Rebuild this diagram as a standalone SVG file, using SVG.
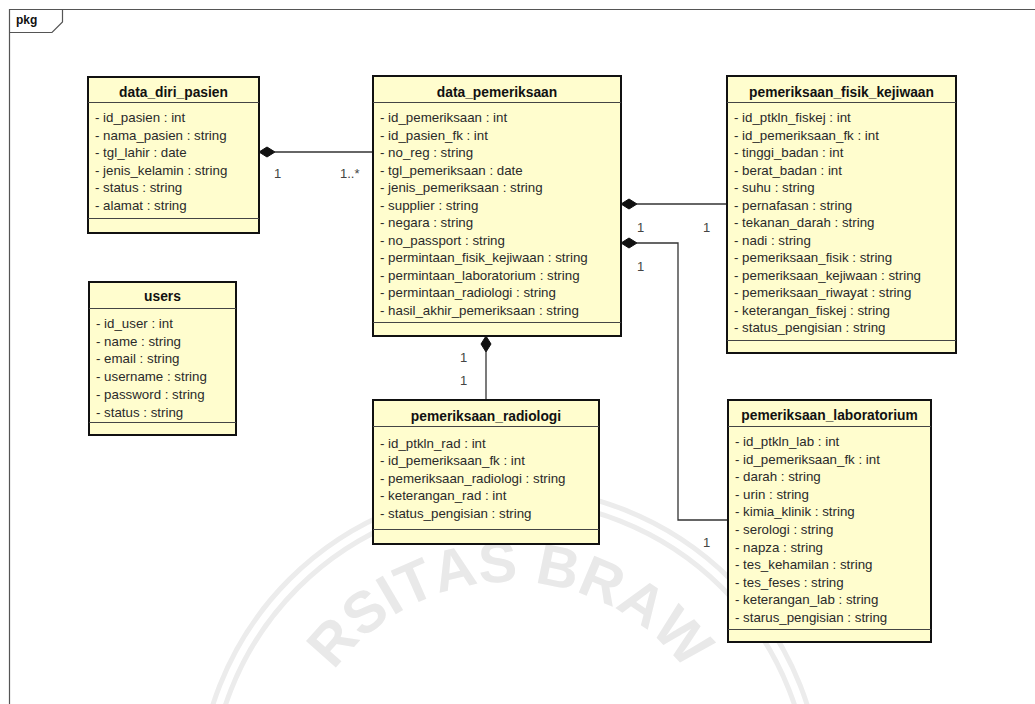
<svg xmlns="http://www.w3.org/2000/svg" width="1035" height="704" viewBox="0 0 1035 704">
  <defs>
    <style>
      .frame { fill: none; stroke: #555; stroke-width: 1.2; }
      .box { fill: #fffdce; stroke: #111; stroke-width: 2; }
      .sep { stroke: #444; stroke-width: 1; }
      .title { font-family: "Liberation Sans", Arial, sans-serif; font-size: 13.8px; font-weight: bold; fill: #111; text-anchor: middle; }
      .attr { font-family: "Liberation Sans", Arial, sans-serif; font-size: 13.3px; fill: #2a2a2a; }
      .mult { font-family: "Liberation Sans", Arial, sans-serif; font-size: 13px; fill: #444; }
      .conn { fill: none; stroke: #333; stroke-width: 1.3; }
      .diamond { fill: #111; stroke: #111; stroke-width: 1; }
      .wm-ring { fill: none; stroke: #ececec; stroke-width: 5; }
      .wm-text { font-family: "Liberation Sans", Arial, sans-serif; font-size: 58px; font-weight: bold; fill: #e9e9e9; text-anchor: middle; }
    </style>
  </defs>

  <rect x="0" y="0" width="1035" height="704" fill="#ffffff"/>

  <!-- background seal: rings and lettering set around centre (510, 800) -->
  <g id="seal">
    <circle class="wm-ring" cx="510" cy="800" r="300"/>
    <circle class="wm-ring" cx="510" cy="800" r="312"/>
    <text class="wm-text" x="510" y="582" transform="rotate(-48.3 510 800)">R</text>
    <text class="wm-text" x="510" y="582" transform="rotate(-37.7 510 800)">S</text>
    <text class="wm-text" x="510" y="582" transform="rotate(-30.5 510 800)">I</text>
    <text class="wm-text" x="510" y="582" transform="rotate(-23.7 510 800)">T</text>
    <text class="wm-text" x="510" y="582" transform="rotate(-13.6 510 800)">A</text>
    <text class="wm-text" x="510" y="582" transform="rotate(-3.0 510 800)">S</text>
    <text class="wm-text" x="510" y="582" transform="rotate(11.8 510 800)">B</text>
    <text class="wm-text" x="510" y="582" transform="rotate(22.8 510 800)">R</text>
    <text class="wm-text" x="510" y="582" transform="rotate(33.9 510 800)">A</text>
    <text class="wm-text" x="510" y="582" transform="rotate(46.6 510 800)">W</text>
  </g>

  <!-- package frame -->
  <g id="pkg">
    <path class="frame" d="M 9.5 704 V 9.5 H 1035"/>
    <path class="frame" d="M 9.5 32.5 H 52 L 62.5 22 V 9.5"/>
    <text x="16" y="24" font-family="Liberation Sans, Arial, sans-serif" font-size="12" font-weight="bold" fill="#111">pkg</text>
  </g>

  <!-- connectors -->
  <g id="connectors">
    <!-- data_diri_pasien 1 — 1..* data_pemeriksaan -->
    <line class="conn" x1="275" y1="152" x2="373" y2="152"/>
    <polygon class="diamond" points="259,152 267,147 275,152 267,157"/>
    <text class="mult" x="274" y="178">1</text>
    <text class="mult" x="340" y="178">1..*</text>

    <!-- data_pemeriksaan — pemeriksaan_fisik_kejiwaan -->
    <line class="conn" x1="637" y1="204" x2="727" y2="204"/>
    <polygon class="diamond" points="621,204 629,199 637,204 629,209"/>
    <text class="mult" x="637" y="232">1</text>
    <text class="mult" x="703" y="232">1</text>

    <!-- data_pemeriksaan — pemeriksaan_laboratorium -->
    <polyline class="conn" points="637,243 678,243 678,520 728,520"/>
    <polygon class="diamond" points="621,243 629,238 637,243 629,248"/>
    <text class="mult" x="637" y="271">1</text>
    <text class="mult" x="703" y="547">1</text>

    <!-- data_pemeriksaan — pemeriksaan_radiologi -->
    <line class="conn" x1="486" y1="352" x2="486" y2="400"/>
    <polygon class="diamond" points="486,336 491,344 486,352 481,344"/>
    <text class="mult" x="460" y="362">1</text>
    <text class="mult" x="460" y="385">1</text>
  </g>

  <!-- data_diri_pasien -->
  <g id="data_diri_pasien">
    <rect class="box" x="88" y="77" width="171" height="156"/>
    <line class="sep" x1="88" y1="102.5" x2="259" y2="102.5"/>
    <line class="sep" x1="88" y1="218.5" x2="259" y2="218.5"/>
    <text class="title" x="173.5" y="97">data_diri_pasien</text>
    <text class="attr" x="95" y="122">- id_pasien : int</text>
    <text class="attr" x="95" y="139.6">- nama_pasien : string</text>
    <text class="attr" x="95" y="157.2">- tgl_lahir : date</text>
    <text class="attr" x="95" y="174.8">- jenis_kelamin : string</text>
    <text class="attr" x="95" y="192.4">- status : string</text>
    <text class="attr" x="95" y="210">- alamat : string</text>
  </g>

  <!-- users -->
  <g id="users">
    <rect class="box" x="89" y="282" width="147" height="153"/>
    <line class="sep" x1="89" y1="308.5" x2="236" y2="308.5"/>
    <line class="sep" x1="89" y1="422.5" x2="236" y2="422.5"/>
    <text class="title" x="162.5" y="301">users</text>
    <text class="attr" x="96" y="328">- id_user : int</text>
    <text class="attr" x="96" y="345.7">- name : string</text>
    <text class="attr" x="96" y="363.4">- email : string</text>
    <text class="attr" x="96" y="381.1">- username : string</text>
    <text class="attr" x="96" y="398.8">- password : string</text>
    <text class="attr" x="96" y="416.5">- status : string</text>
  </g>

  <!-- data_pemeriksaan -->
  <g id="data_pemeriksaan">
    <rect class="box" x="373" y="76" width="248" height="260"/>
    <line class="sep" x1="373" y1="102.5" x2="621" y2="102.5"/>
    <line class="sep" x1="373" y1="322.5" x2="621" y2="322.5"/>
    <text class="title" x="497" y="97">data_pemeriksaan</text>
    <text class="attr" x="380" y="122">- id_pemeriksaan : int</text>
    <text class="attr" x="380" y="139.5">- id_pasien_fk : int</text>
    <text class="attr" x="380" y="157">- no_reg : string</text>
    <text class="attr" x="380" y="174.5">- tgl_pemeriksaan : date</text>
    <text class="attr" x="380" y="192">- jenis_pemeriksaan : string</text>
    <text class="attr" x="380" y="209.5">- supplier : string</text>
    <text class="attr" x="380" y="227">- negara : string</text>
    <text class="attr" x="380" y="244.5">- no_passport : string</text>
    <text class="attr" x="380" y="262">- permintaan_fisik_kejiwaan : string</text>
    <text class="attr" x="380" y="279.5">- permintaan_laboratorium : string</text>
    <text class="attr" x="380" y="297">- permintaan_radiologi : string</text>
    <text class="attr" x="380" y="314.5">- hasil_akhir_pemeriksaan : string</text>
  </g>

  <!-- pemeriksaan_fisik_kejiwaan -->
  <g id="pemeriksaan_fisik_kejiwaan">
    <rect class="box" x="727" y="76" width="229" height="277"/>
    <line class="sep" x1="727" y1="102.5" x2="956" y2="102.5"/>
    <line class="sep" x1="727" y1="340.5" x2="956" y2="340.5"/>
    <text class="title" x="841.5" y="97">pemeriksaan_fisik_kejiwaan</text>
    <text class="attr" x="734" y="122">- id_ptkln_fiskej : int</text>
    <text class="attr" x="734" y="139.5">- id_pemeriksaan_fk : int</text>
    <text class="attr" x="734" y="157">- tinggi_badan : int</text>
    <text class="attr" x="734" y="174.5">- berat_badan : int</text>
    <text class="attr" x="734" y="192">- suhu : string</text>
    <text class="attr" x="734" y="209.5">- pernafasan : string</text>
    <text class="attr" x="734" y="227">- tekanan_darah : string</text>
    <text class="attr" x="734" y="244.5">- nadi : string</text>
    <text class="attr" x="734" y="262">- pemeriksaan_fisik : string</text>
    <text class="attr" x="734" y="279.5">- pemeriksaan_kejiwaan : string</text>
    <text class="attr" x="734" y="297">- pemeriksaan_riwayat : string</text>
    <text class="attr" x="734" y="314.5">- keterangan_fiskej : string</text>
    <text class="attr" x="734" y="332">- status_pengisian : string</text>
  </g>

  <!-- pemeriksaan_radiologi -->
  <g id="pemeriksaan_radiologi">
    <rect class="box" x="373" y="400" width="226" height="144"/>
    <line class="sep" x1="373" y1="426.5" x2="599" y2="426.5"/>
    <line class="sep" x1="373" y1="529.5" x2="599" y2="529.5"/>
    <text class="title" x="486" y="421">pemeriksaan_radiologi</text>
    <text class="attr" x="380" y="447.5">- id_ptkln_rad : int</text>
    <text class="attr" x="380" y="465.1">- id_pemeriksaan_fk : int</text>
    <text class="attr" x="380" y="482.7">- pemeriksaan_radiologi : string</text>
    <text class="attr" x="380" y="500.3">- keterangan_rad : int</text>
    <text class="attr" x="380" y="517.9">- status_pengisian : string</text>
  </g>

  <!-- pemeriksaan_laboratorium -->
  <g id="pemeriksaan_laboratorium">
    <rect class="box" x="728" y="400" width="203" height="242"/>
    <line class="sep" x1="728" y1="426.5" x2="931" y2="426.5"/>
    <line class="sep" x1="728" y1="629.5" x2="931" y2="629.5"/>
    <text class="title" x="829.5" y="419.5">pemeriksaan_laboratorium</text>
    <text class="attr" x="735" y="446">- id_ptkln_lab : int</text>
    <text class="attr" x="735" y="463.6">- id_pemeriksaan_fk : int</text>
    <text class="attr" x="735" y="481.2">- darah : string</text>
    <text class="attr" x="735" y="498.8">- urin : string</text>
    <text class="attr" x="735" y="516.4">- kimia_klinik : string</text>
    <text class="attr" x="735" y="534">- serologi : string</text>
    <text class="attr" x="735" y="551.6">- napza : string</text>
    <text class="attr" x="735" y="569.2">- tes_kehamilan : string</text>
    <text class="attr" x="735" y="586.8">- tes_feses : string</text>
    <text class="attr" x="735" y="604.4">- keterangan_lab : string</text>
    <text class="attr" x="735" y="622">- starus_pengisian : string</text>
  </g>
</svg>
